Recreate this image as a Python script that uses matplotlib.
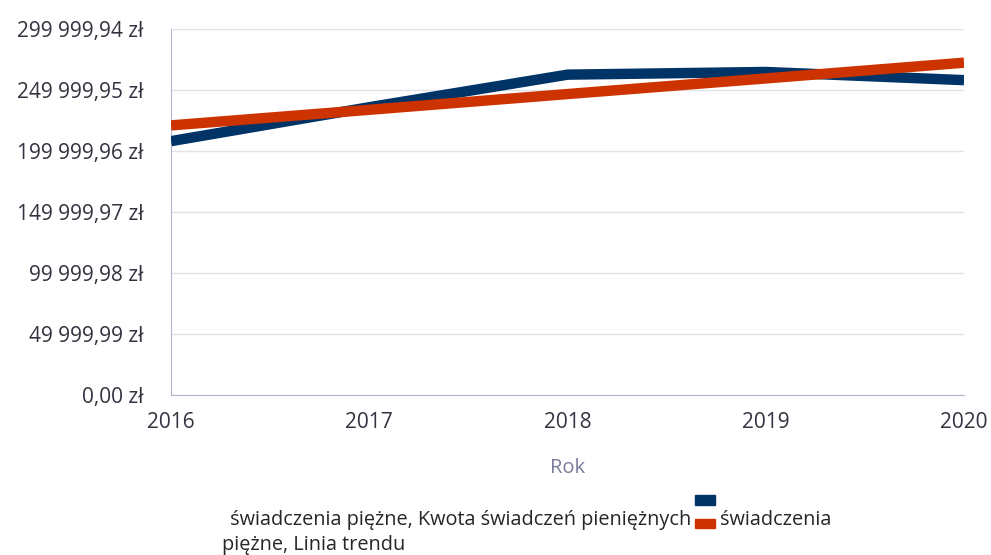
import matplotlib.pyplot as plt
from matplotlib.patches import Rectangle

## Dane
lata = [2016, 2017, 2018, 2019, 2020]
kwota = [208100, 235900, 262600, 264800, 258100]
trend = [221000, 233800, 246700, 259500, 272400]
y_ticki = [0.00, 49999.99, 99999.98, 149999.97, 199999.96, 249999.95, 299999.94]
y_etykiety = ['0,00 zł', '49 999,99 zł', '99 999,98 zł', '149 999,97 zł',
              '199 999,96 zł', '249 999,95 zł', '299 999,94 zł']

plt.rcParams['font.family'] = ['Open Sans', 'DejaVu Sans']

fig = plt.figure(figsize=(9.91, 5.55), dpi=100)
ax = fig.add_axes([0.1726, 0.2883, 0.8002, 0.6594])

ax.plot(lata, kwota, color='#003366', linewidth=7.5, solid_capstyle='butt', zorder=3)
ax.plot(lata, trend, color='#cc3300', linewidth=7.5, solid_capstyle='butt', zorder=4)

ax.set_xlim(2016, 2020)
ax.set_ylim(0, 299999.94)
ax.set_xticks(lata)
ax.set_xticklabels([str(r) for r in lata], fontsize=15, color='#333340')
ax.set_yticks(y_ticki)
ax.set_yticklabels(y_etykiety, fontsize=15, color='#333340')
ax.tick_params(axis='both', length=0)
ax.tick_params(axis='x', pad=12)
ax.tick_params(axis='y', pad=20)

ax.grid(axis='y', color='#e2e2ec', linewidth=1)
ax.set_axisbelow(True)
for s in ['top', 'right']:
    ax.spines[s].set_visible(False)
ax.spines['left'].set_color('#b4b4cc')
ax.spines['bottom'].set_color('#b4b4cc')

ax.set_xlabel('Rok', fontsize=14.5, color='#7a7a9a', labelpad=18)

## Legenda (jak w Excelu)
fig.text(225 / 991, 1 - 520 / 555, ' świadczenia piężne, Kwota świadczeń pieniężnych',
         fontsize=14.3, color='#262626', va='center', ha='left')
fig.text(720 / 991, 1 - 520 / 555, 'świadczenia', fontsize=14.3, color='#262626',
         va='center', ha='left')
fig.text(222 / 991, 1 - 545 / 555, 'piężne, Linia trendu', fontsize=14.3,
         color='#262626', va='center', ha='left')
fig.patches.append(Rectangle((695 / 991, 1 - 505 / 555), 20 / 991, 10 / 555,
                             transform=fig.transFigure, color='#003366'))
fig.patches.append(Rectangle((695 / 991, 1 - 528 / 555), 20 / 991, 9 / 555,
                             transform=fig.transFigure, color='#cc3300'))

fig.savefig('out.png', dpi=100)
